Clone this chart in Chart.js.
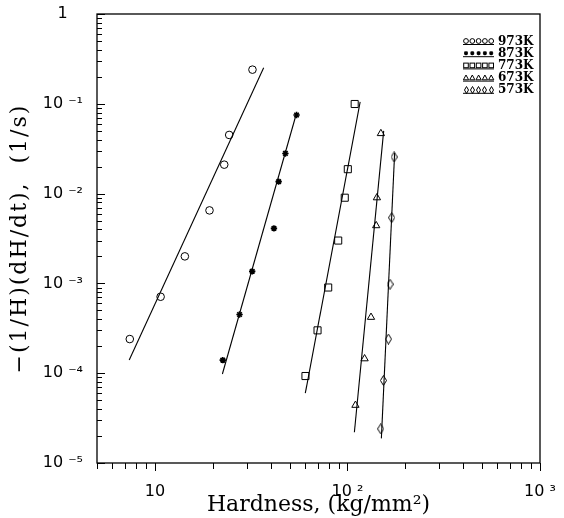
<!DOCTYPE html>
<html><head><meta charset="utf-8">
<script src="https://cdn.jsdelivr.net/npm/chart.js@4/dist/chart.umd.min.js"></script>
<style>html,body{margin:0;padding:0;background:#fff}</style>
</head><body>
<canvas id="c" width="564" height="518"></canvas>
<script>
// ---- data ----
const categories = ['973K', '873K', '773K', '673K', '573K'];

const hard973 = [7.4, 10.7, 14.3, 19.2, 22.9, 24.3, 32.1];
const rate973 = [2.4e-4, 7.1e-4, 2.0e-3, 6.5e-3, 0.021, 0.045, 0.24];
const hard873 = [22.5, 27.5, 32.0, 41.5, 43.9, 47.6, 54.4];
const rate873 = [1.4e-4, 4.5e-4, 1.36e-3, 4.1e-3, 0.0136, 0.028, 0.075];
const hard773 = [60.5, 69.9, 79.4, 89.5, 96.8, 100.4, 109];
const rate773 = [9.3e-5, 3.0e-4, 9.0e-4, 3.0e-3, 9.0e-3, 0.0187, 0.0995];
const hard673 = [110, 122.7, 132.5, 141, 142.2, 149.1];
const rate673 = [4.4e-5, 1.45e-4, 4.2e-4, 4.4e-3, 9.0e-3, 0.0467];
const hard573 = [148.8, 153.7, 163.2, 166.4, 169.7, 174.6];
const rate573 = [2.4e-5, 8.3e-5, 2.4e-4, 9.8e-4, 5.4e-3, 0.0256];

// fitted lines (end points)
const fitHard973 = [7.35, 36.7];  const fitRate973 = [1.40e-4, 0.252];
const fitHard873 = [22.4, 54.4];  const fitRate873 = [9.8e-5, 0.079];
const fitHard773 = [60.4, 116.4]; const fitRate773 = [6.0e-5, 0.105];
const fitHard673 = [108.6, 154.2]; const fitRate673 = [2.2e-5, 0.050];
const fitHard573 = [150, 175.8];  const fitRate573 = [1.88e-5, 0.0285];

const xTickValues = [10, 100, 1000];
const xTickLabels = ['10', '10 ²', '10 ³'];
const yTickValues = [1e-5, 1e-4, 1e-3, 1e-2, 1e-1, 1];
const yTickLabels = ['10 ⁻⁵', '10 ⁻⁴', '10 ⁻³', '10 ⁻²', '10 ⁻¹', '1   '];

// ---- marker styles ----
function diamondImg(w, h) {
  const c = document.createElement('canvas');
  c.width = w; c.height = h;
  const g = c.getContext('2d');
  g.strokeStyle = '#000'; g.lineWidth = 1;
  g.beginPath();
  g.moveTo(w / 2, 0.5); g.lineTo(w - 0.5, h / 2); g.lineTo(w / 2, h - 0.5); g.lineTo(0.5, h / 2);
  g.closePath(); g.stroke();
  return c;
}
const diamond = diamondImg(7, 11);
const diamondSmall = diamondImg(5, 8);

const styles = [
  { pointStyle: 'circle', pointRadius: 3.8, pointBorderWidth: 1 },
  { pointStyle: 'star', pointRadius: 3.2, pointBorderWidth: 1.6 },
  { pointStyle: 'rect', pointRadius: 5, pointBorderWidth: 1 },
  { pointStyle: 'triangle', pointRadius: 4.2, pointBorderWidth: 1 },
  { pointStyle: diamond, pointRadius: 4, pointBorderWidth: 1 },
];

const pts = (xs, ys) => xs.map((v, i) => ({ x: v, y: ys[i] }));
const series = [
  [hard973, rate973, fitHard973, fitRate973],
  [hard873, rate873, fitHard873, fitRate873],
  [hard773, rate773, fitHard773, fitRate773],
  [hard673, rate673, fitHard673, fitRate673],
  [hard573, rate573, fitHard573, fitRate573],
];

const datasets = [];
series.forEach((s, i) => {
  datasets.push(Object.assign({
    label: categories[i], data: pts(s[0], s[1]), showLine: false,
    borderColor: '#000', backgroundColor: 'rgba(0,0,0,0)',
    pointBorderColor: '#000', pointBackgroundColor: 'rgba(255,255,255,0)'
  }, styles[i]));
  datasets.push({
    label: categories[i] + ' fit', data: pts(s[2], s[3]), showLine: true,
    borderColor: '#000', borderWidth: 1.1, pointRadius: 0, fill: false
  });
});

// ---- decorations: frame, ticks, legend ----
const deco = {
  id: 'deco',
  afterDatasetsDraw(chart) {
    const { ctx, chartArea: a, scales: { x, y } } = chart;
    ctx.save();
    ctx.strokeStyle = '#000';
    ctx.lineWidth = 1.3;
    ctx.strokeRect(a.left, a.top, a.right - a.left, a.bottom - a.top);
    ctx.lineWidth = 1;
    for (let e = 0; e <= 3; e++) {
      for (let m = 1; m <= 9; m++) {
        const v = m * Math.pow(10, e);
        if (v < 5 || v > 1000) continue;
        const px = Math.round(x.getPixelForValue(v)) + 0.5;
        const len = m === 1 ? 8 : 6;
        ctx.beginPath(); ctx.moveTo(px, a.bottom); ctx.lineTo(px, a.bottom + len); ctx.stroke();
      }
    }
    for (let e = -5; e <= 0; e++) {
      for (let m = 1; m <= 9; m++) {
        const v = m * Math.pow(10, e);
        if (v > 1.0000001) continue;
        const py = Math.round(y.getPixelForValue(v)) + 0.5;
        const len = m === 1 ? 8 : 5;
        ctx.beginPath(); ctx.moveTo(a.left, py); ctx.lineTo(a.left + len, py); ctx.stroke();
      }
    }
    const lx = 463, ly0 = 41, dy = 12.2;
    categories.forEach((name, i) => {
      const cy = ly0 + i * dy;
      ctx.lineWidth = 1;
      ctx.beginPath(); ctx.moveTo(lx, cy + 3.5); ctx.lineTo(lx + 31, cy + 3.5); ctx.stroke();
      for (let k = 0; k < 5; k++) {
        const mx = lx + 3 + k * 6.3;
        ctx.beginPath();
        if (i === 0) { ctx.arc(mx, cy, 2.4, 0, Math.PI * 2); ctx.stroke(); }
        else if (i === 1) {
          ctx.lineWidth = 1.2;
          ctx.moveTo(mx - 2, cy); ctx.lineTo(mx + 2, cy);
          ctx.moveTo(mx, cy - 2); ctx.lineTo(mx, cy + 2);
          ctx.moveTo(mx - 1.5, cy - 1.5); ctx.lineTo(mx + 1.5, cy + 1.5);
          ctx.moveTo(mx - 1.5, cy + 1.5); ctx.lineTo(mx + 1.5, cy - 1.5);
          ctx.stroke();
        }
        else if (i === 2) { ctx.strokeRect(mx - 2.3, cy - 2.3, 4.6, 4.6); }
        else if (i === 3) { ctx.moveTo(mx, cy - 2.6); ctx.lineTo(mx + 2.6, cy + 2.2); ctx.lineTo(mx - 2.6, cy + 2.2); ctx.closePath(); ctx.stroke(); }
        else { ctx.drawImage(diamondSmall, Math.round(mx - 2.5), Math.round(cy - 4)); }
      }
      ctx.fillStyle = '#000';
      ctx.font = 'bold 12px "DejaVu Serif"';
      ctx.textAlign = 'left'; ctx.textBaseline = 'middle';
      ctx.fillText(name, lx + 35, cy + 0.5);
    });
    ctx.restore();
  }
};

function spacedTitle(s) {
  if (s._spaced) return;
  s._spaced = true;
  const orig = s.drawTitle;
  s.drawTitle = function () {
    const c = this.ctx;
    const prev = c.letterSpacing;
    c.letterSpacing = '2px';
    orig.apply(this, arguments);
    c.letterSpacing = prev || '0px';
  };
}

new Chart(document.getElementById('c'), {
  type: 'scatter',
  data: { datasets },
  options: {
    responsive: false, animation: false, devicePixelRatio: 1,
    layout: { padding: { top: 14, right: 24, left: 0, bottom: 0 } },
    plugins: { legend: { display: false }, tooltip: { enabled: false } },
    scales: {
      x: {
        type: 'logarithmic', min: 5, max: 1000,
        afterBuildTicks: s => { s.ticks = xTickValues.map(v => ({ value: v })); },
        afterFit: s => { s.height = 55; s.paddingLeft = 0; s.paddingRight = 0; },
        ticks: {
          autoSkip: false, maxRotation: 0, padding: 19, color: '#000',
          font: { family: 'DejaVu Sans', size: 16 },
          callback: v => xTickLabels[xTickValues.indexOf(v)]
        },
        grid: { display: false, drawTicks: false, tickLength: 0 }, border: { display: false },
        title: { display: true, text: 'Hardness, (kg/mm²)', color: '#000',
          font: { family: 'DejaVu Serif', size: 22 }, padding: { top: 0, bottom: 0 } }
      },
      y: {
        type: 'logarithmic', min: 1e-5, max: 1,
        afterBuildTicks: s => { s.ticks = yTickValues.map(v => ({ value: v })); },
        afterFit: s => { s.width = 97; s.paddingTop = 0; s.paddingBottom = 0; spacedTitle(s); },
        ticks: {
          autoSkip: false, padding: 14, color: '#000',
          font: { family: 'DejaVu Sans', size: 16 },
          callback: v => yTickLabels[yTickValues.indexOf(v)]
        },
        grid: { display: false, drawTicks: false, tickLength: 0 }, border: { display: false },
        title: { display: true, text: '−(1/H)(dH/dt),  (1/s)', color: '#000',
          font: { family: 'DejaVu Serif', size: 22 }, padding: { top: 7, bottom: 0 } }
      }
    }
  },
  plugins: [deco]
});
</script>
</body></html>
